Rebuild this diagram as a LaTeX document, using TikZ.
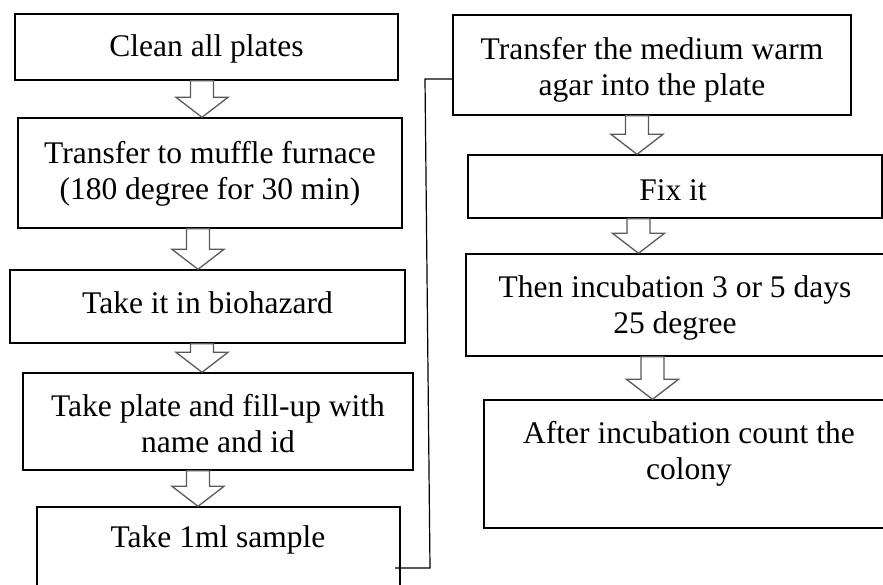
\documentclass[tikz,border=0pt]{standalone}
\usepackage{fontspec}
\setmainfont{Liberation Serif}
\usetikzlibrary{calc}
\newcommand\blockarrow[3]{%
  \path[blockarr] let \p1=(#1.south), \p2=(#2.north) in
  ({#3pt-11.5pt},\y1) -- ({#3pt+11.5pt},\y1) -- ({#3pt+11.5pt},\y2+20pt)
  -- ({#3pt+26pt},\y2+20pt) -- (#3pt,\y2) -- ({#3pt-26pt},\y2+20pt)
  -- ({#3pt-11.5pt},\y2+20pt) -- cycle;}
\begin{document}
\begin{tikzpicture}[x=1pt,y=-1pt,
  stepbox/.style={draw=black,line width=1.4pt,inner sep=0pt},
  steptext/.style={font=\fontsize{31.5}{36}\selectfont,align=center,inner sep=0pt},
  blockarr/.style={draw=black!65,line width=1.3pt,fill=white,line join=miter},
  link/.style={draw=black,line width=1.2pt}]
\useasboundingbox (0,0) rectangle (883,584);
\clip (0,0) rectangle (883,584);
% boxes
\node[stepbox,minimum width=383,minimum height=66]  (b1) at (206.5,47) {};
\node[stepbox,minimum width=384,minimum height=110] (b2) at (210,173) {};
\node[stepbox,minimum width=395,minimum height=73]  (b3) at (207.5,306.5) {};
\node[stepbox,minimum width=390,minimum height=97]  (b4) at (218,421.5) {};
\node[stepbox,minimum width=363,minimum height=100] (b5) at (218.5,557) {};
\node[stepbox,minimum width=398,minimum height=100] (b6) at (652,65) {};
\node[stepbox,minimum width=414,minimum height=63]  (b7) at (675,186.5) {};
\node[stepbox,minimum width=420,minimum height=102] (b8) at (676,305) {};
\node[stepbox,minimum width=402,minimum height=128] (b9) at (685,464) {};
% texts
\node[steptext] (t1) at (206.5,49) {Clean all plates};
\node[steptext] (t2) at (210,174) {Transfer to muffle furnace\\(180 degree for 30 min)};
\node[steptext] (t3) at (207.5,303) {Take it in biohazard};
\node[steptext] (t4) at (218,424) {Take plate and fill-up with\\name and id};
\node[steptext] (t5) at (218,540) {Take 1ml sample};
\node[steptext] (t6) at (652,70) {Transfer the medium warm\\agar into the plate};
\node[steptext] (t7) at (673,190) {Fix it};
\node[steptext] (t8) at (675,308) {Then incubation 3 or 5 days\\25 degree};
\node[steptext] (t9) at (689,454) {After incubation count the\\colony};
% block arrows
\blockarrow{b1}{b2}{202}
\blockarrow{b2}{b3}{198}
\blockarrow{b3}{b4}{202}
\blockarrow{b4}{b5}{198}
\blockarrow{b6}{b7}{637}
\blockarrow{b7}{b8}{638.5}
\blockarrow{b8}{b9}{652.5}
% connector
\coordinate (c1) at (395,568);
\coordinate (c2) at (430,568);
\coordinate (c3) at (425,79);
\draw[link] (c1) -- (c2) -- (c3) -- (c3 -| b6.west);
\end{tikzpicture}
\end{document}
